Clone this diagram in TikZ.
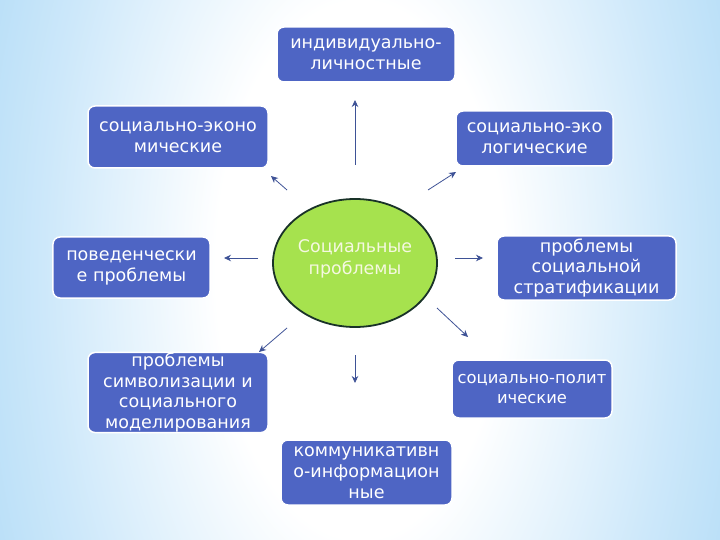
\documentclass[tikz,border=0pt]{standalone}
\usepackage{fontspec}
\setmainfont{DejaVu Sans}
\usetikzlibrary{shapes.geometric,arrows.meta}

% Define colors
\definecolor{boxblue}{RGB}{78,101,196}
\definecolor{ovalgreen}{RGB}{166,226,78}
\definecolor{ovalline}{RGB}{25,50,40}
\definecolor{arrowblue}{RGB}{62,82,150}
\definecolor{skyA}{RGB}{205,232,250}
\definecolor{skyB}{RGB}{148,206,244}
\definecolor{skyC}{RGB}{100,180,236}

\pgfdeclareradialshading{bgshade}{\pgfpoint{0bp}{0bp}}{%
  color(0bp)=(white); color(10bp)=(white); color(22bp)=(skyA);
  color(38bp)=(skyB); color(60bp)=(skyC)}

\tikzset{
  probbox/.style={draw=white, line width=1.5bp, fill=boxblue, rounded corners=7bp,
    text=white, align=center, inner sep=0pt, font=\fontsize{17.6}{21}\selectfont},
  arr/.style={draw=arrowblue, line width=0.8bp, -{Stealth[length=7bp,width=6.5bp]}}
}

\begin{document}
\begin{tikzpicture}[x=1bp,y=-1bp]

    % background
    \useasboundingbox (0,0) rectangle (720,540);
    \begin{scope}
      \clip (0,0) rectangle (720,540);
      \shade[shading=bgshade] (0,-400) rectangle (720,940);
    \end{scope}

    % centre
    \node[ellipse, draw=ovalline, line width=1.8bp, fill=ovalgreen, text={rgb,255:red,245;green,248;blue,225},
      minimum width=164bp, minimum height=128bp, inner sep=0pt, align=center,
      font=\fontsize{17.5}{23}\selectfont] (soc) at (355,263) {Социальные\\проблемы\\[-11bp]};

    %-------------
    % problem boxes
    \node[probbox, minimum width=178bp, minimum height=55bp] (indiv) at (366,54.5) {индивидуально-\\личностные};
    \node[probbox, minimum width=180bp, minimum height=62bp] (econ) at (178,137) {социально-эконо\\мические};
    \node[probbox, minimum width=157bp, minimum height=55bp] (ecol) at (534.5,138.5) {социально-эко\\логические};
    \node[probbox, minimum width=157bp, minimum height=61bp] (behav) at (131.5,267.5) {поведенчески\\е проблемы};
    \node[probbox, minimum width=179bp, minimum height=64bp] (strat) at (586.5,268) {проблемы\\социальной\\стратификации};
    \node[probbox, minimum width=180bp, minimum height=75bp] (symb) at (178,392.5) {проблемы\\символизации и\\социального\\моделирования};
    \node[probbox, minimum width=160bp, minimum height=58bp, font=\fontsize{16.4}{20}\selectfont] (polit) at (532,389) {социально-полит\\ические};
    \node[probbox, minimum width=171bp, minimum height=65bp] (comm) at (366.5,472.5) {коммуникативн\\о-информацион\\ные};

    %-------------
    % arrow ends
    \coordinate (upA) at (355,165);    \coordinate (upB) at (355,100);
    \coordinate (ulA) at (287,190);    \coordinate (ulB) at (271,176);
    \coordinate (urA) at (428,190);    \coordinate (urB) at (456,172);
    \coordinate (lfA) at (258,258);    \coordinate (lfB) at (224,258);
    \coordinate (rtA) at (455,258);    \coordinate (rtB) at (483,258);
    \coordinate (drA) at (437,308);    \coordinate (drB) at (468,337);
    \coordinate (dlA) at (287,328);    \coordinate (dlB) at (259,352);
    \coordinate (dnA) at (355,355);    \coordinate (dnB) at (355,383);

    \draw[arr] (upA) -- (upB);
    \draw[arr] (ulA) -- (ulB);
    \draw[arr] (urA) -- (urB);
    \draw[arr] (lfA) -- (lfB);
    \draw[arr] (rtA) -- (rtB);
    \draw[arr] (drA) -- (drB);
    \draw[arr] (dlA) -- (dlB);
    \draw[arr] (dnA) -- (dnB);

\end{tikzpicture}
\end{document}
